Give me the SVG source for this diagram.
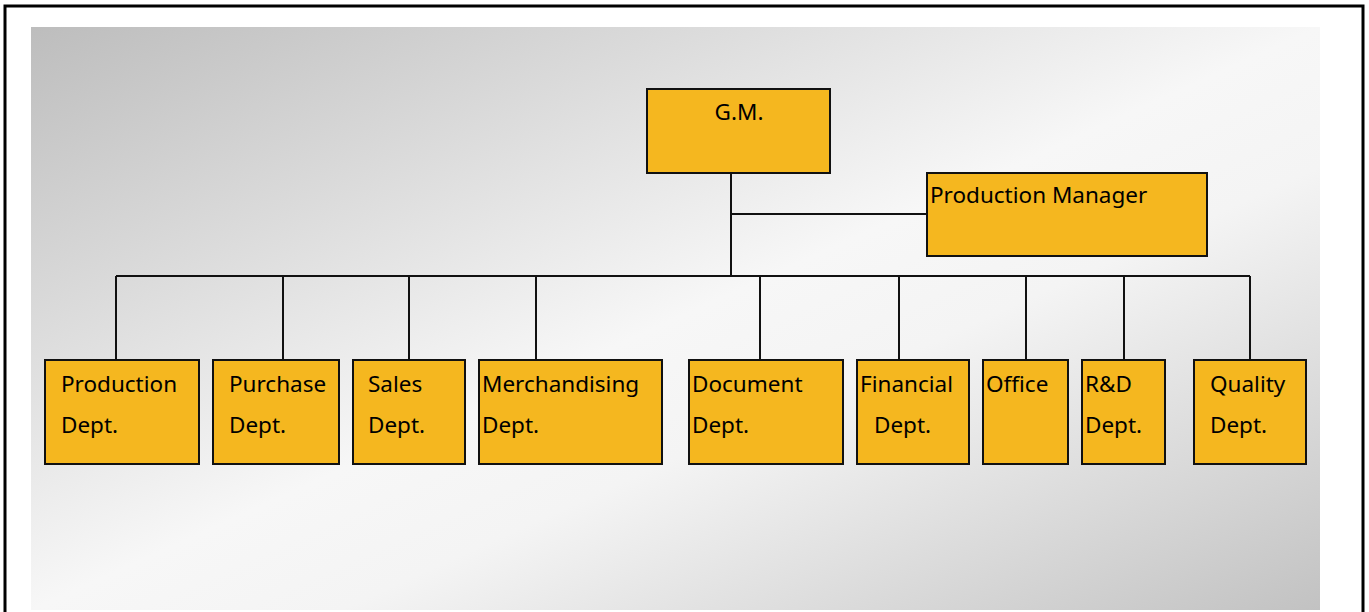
<svg xmlns="http://www.w3.org/2000/svg" width="1369" height="612" viewBox="0 0 1369 612">
<defs>
<linearGradient id="bg" x1="0" y1="0" x2="1" y2="1">
<stop offset="0" stop-color="#bdbdbd"/>
<stop offset="0.5" stop-color="#f7f7f7"/>
<stop offset="0.62" stop-color="#f4f4f4"/>
<stop offset="1" stop-color="#c2c2c2"/>
</linearGradient>
<style>
.box{fill:#f5b71f;stroke:#111;stroke-width:2}
.ln{stroke:#111;stroke-width:2;fill:none}
text{font-family:"Noto Sans","Open Sans","Liberation Sans",sans-serif;font-size:22.5px;fill:#000}
</style>
</defs>
<rect x="0" y="0" width="1369" height="612" fill="#fff"/>
<rect x="5" y="6" width="1358" height="630" fill="none" stroke="#000" stroke-width="3"/>
<rect x="31" y="27" width="1289" height="583" fill="url(#bg)"/>
<g id="connectors">
<path class="ln" d="M731,173 V276 M731,214 H928 M116,276 H1250 M116,276 V360 M283,276 V360 M409,276 V360 M536,276 V360 M760,276 V360 M899,276 V360 M1026,276 V360 M1124,276 V360 M1250,276 V360"/>
</g>
<g id="gm"><rect class="box" x="647" y="89" width="183" height="84"/><text x="739" y="120" text-anchor="middle">G.M.</text></g>
<g id="pm"><rect class="box" x="927" y="173" width="280" height="83"/><text x="930" y="203">Production Manager</text></g>
<g id="production"><rect class="box" x="45" y="360" width="154" height="104"/><text x="61" y="392">Production</text><text x="61" y="433">Dept.</text></g>
<g id="purchase"><rect class="box" x="213" y="360" width="126" height="104"/><text x="229" y="392">Purchase</text><text x="229" y="433">Dept.</text></g>
<g id="sales"><rect class="box" x="353" y="360" width="112" height="104"/><text x="368" y="392">Sales</text><text x="368" y="433">Dept.</text></g>
<g id="merch"><rect class="box" x="479" y="360" width="183" height="104"/><text x="482" y="392">Merchandising</text><text x="482" y="433">Dept.</text></g>
<g id="document"><rect class="box" x="689" y="360" width="154" height="104"/><text x="692" y="392">Document</text><text x="692" y="433">Dept.</text></g>
<g id="financial"><rect class="box" x="857" y="360" width="112" height="104"/><text x="860" y="392">Financial</text><text x="874" y="433">Dept.</text></g>
<g id="office"><rect class="box" x="983" y="360" width="85" height="104"/><text x="986" y="392">Office</text></g>
<g id="rd"><rect class="box" x="1082" y="360" width="83" height="104"/><text x="1085" y="392">R&amp;D</text><text x="1085" y="433">Dept.</text></g>
<g id="quality"><rect class="box" x="1194" y="360" width="112" height="104"/><text x="1210" y="392">Quality</text><text x="1210" y="433">Dept.</text></g>
</svg>
